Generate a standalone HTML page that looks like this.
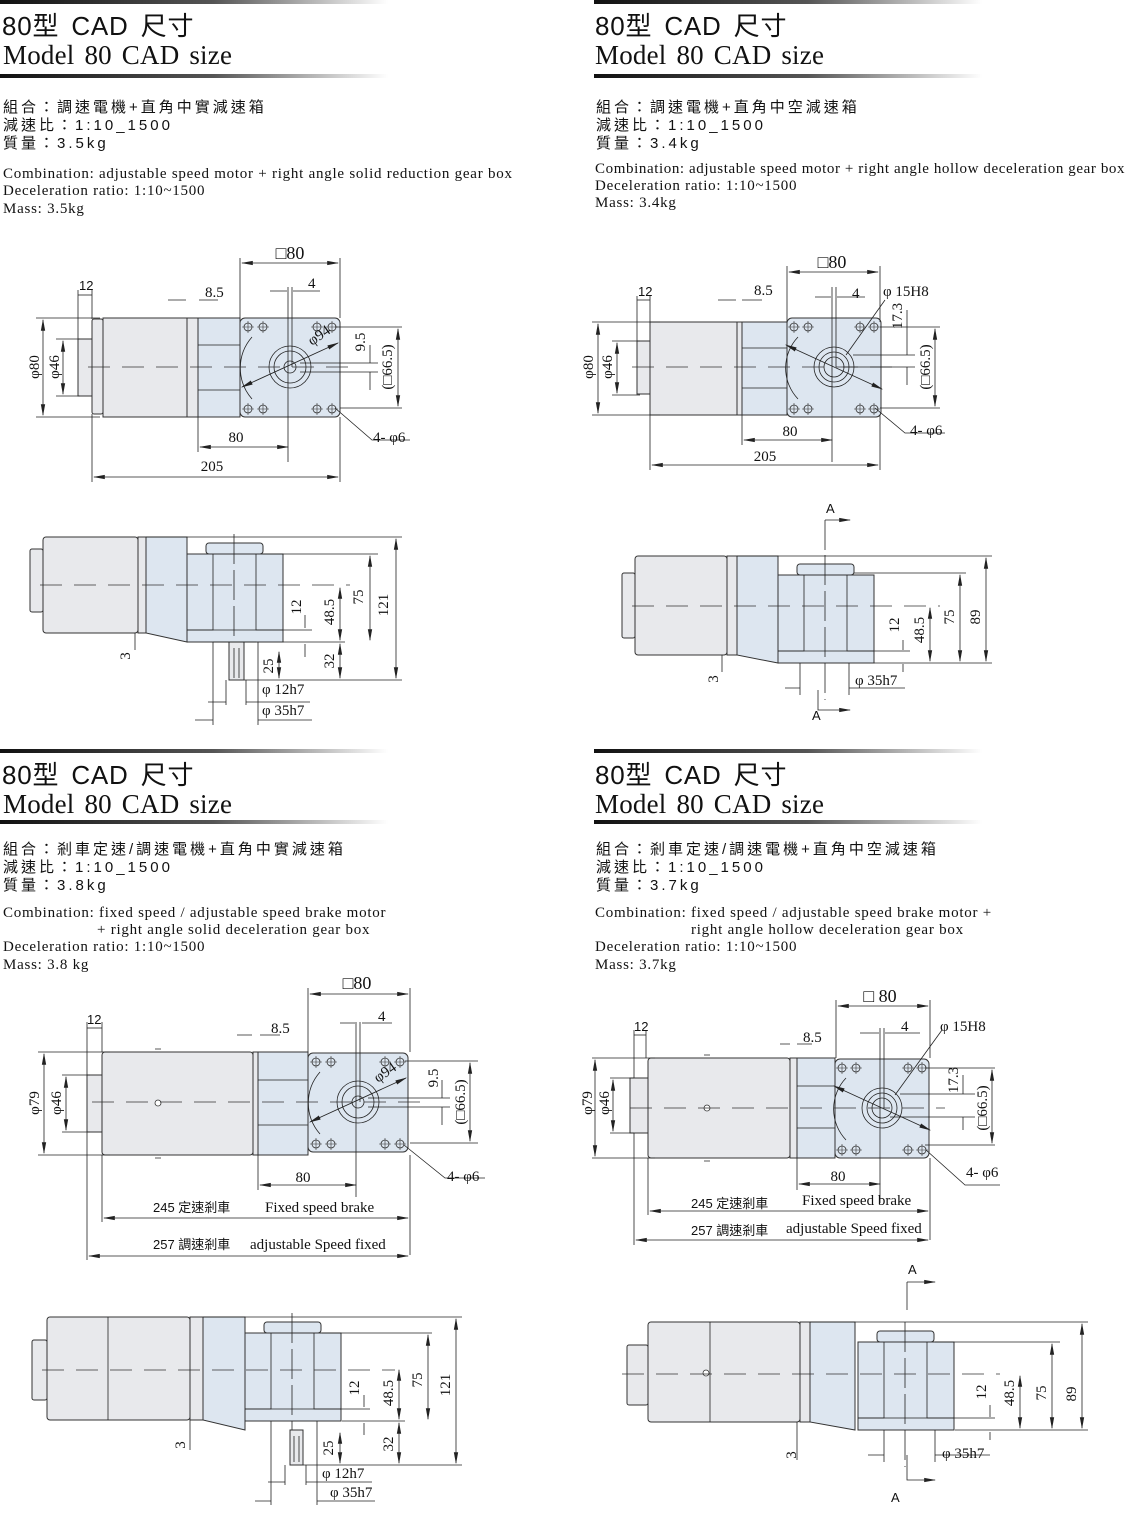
<!DOCTYPE html>
<html><head><meta charset="utf-8"><style>
html,body{margin:0;padding:0;background:#fff;}
svg{display:block}
.t1{font-family:"Liberation Sans","Noto Sans CJK TC",sans-serif;font-size:26px;letter-spacing:0.8px;word-spacing:4px;fill:#111}
.t2{font-family:"Liberation Serif",serif;font-size:27px;letter-spacing:0.2px;word-spacing:3px;fill:#111}
.cn{font-family:"Liberation Sans","Noto Sans CJK TC",sans-serif;font-size:15px;letter-spacing:3px;fill:#111}
.en{font-family:"Liberation Serif",serif;font-size:15px;letter-spacing:0.75px;fill:#111}
.dm{font-family:"Liberation Serif",serif;font-size:15px;fill:#111}
.dl{font-family:"Liberation Serif",serif;font-size:18px;fill:#111}
.cs{font-family:"Liberation Sans","Noto Sans CJK TC",sans-serif;font-size:13px;fill:#111}
.m{fill:#e8e9ec;stroke:#333;stroke-width:1}
.g{fill:#dde6f0;stroke:#333;stroke-width:1}
.l{stroke:#222;stroke-width:0.8;fill:none}
.c{stroke:#333;stroke-width:0.8;fill:none;stroke-dasharray:22 12}
.a{stroke:#222;stroke-width:0.8;fill:none;marker-start:url(#ar);marker-end:url(#ar)}
</style></head><body>
<svg width="1140" height="1513" viewBox="0 0 1140 1513" xmlns="http://www.w3.org/2000/svg">
<defs>
<linearGradient id="rg" x1="0" x2="1"><stop offset="0" stop-color="#111"/><stop offset="0.55" stop-color="#555"/><stop offset="1" stop-color="#fff"/></linearGradient>
<marker id="ar" viewBox="0 0 10 10" refX="9" refY="5" markerWidth="12" markerHeight="12" markerUnits="userSpaceOnUse" orient="auto-start-reverse"><path d="M0,3.2 L10,5 L0,6.8 z" fill="#222"/></marker>
<g id="bolt"><circle r="4" fill="none" stroke="#333" stroke-width="0.8"/><path d="M-6,0H6M0,-6V6" stroke="#333" stroke-width="0.6"/></g>
<g id="sqS">
<rect x="-50" y="-49" width="100" height="99" rx="5" class="g"/>
<path d="M-38,-30 A47,47 0 0 0 -38,32" class="l"/>
<circle r="21" class="l"/><circle r="16" class="l"/><circle r="6" class="l"/>
<use href="#bolt" x="-42" y="-40"/><use href="#bolt" x="-27" y="-40"/><use href="#bolt" x="27" y="-40"/><use href="#bolt" x="42" y="-40"/>
<use href="#bolt" x="-42" y="42"/><use href="#bolt" x="-27" y="42"/><use href="#bolt" x="27" y="42"/><use href="#bolt" x="42" y="42"/>
<path d="M-48,20 L48,-24" class="a"/>
<path d="M-2,-80 V95 M2,-80 V0" class="l"/>
</g>
<g id="sqH">
<rect x="-47" y="-49" width="94" height="99" rx="5" class="g"/>
<path d="M-36,-30 A45,45 0 0 0 -36,32" class="l"/>
<circle r="20" class="l"/><circle r="15" class="l"/><circle r="10" class="l"/>
<use href="#bolt" x="-40" y="-40"/><use href="#bolt" x="-26" y="-40"/><use href="#bolt" x="26" y="-40"/><use href="#bolt" x="40" y="-40"/>
<use href="#bolt" x="-40" y="42"/><use href="#bolt" x="-26" y="42"/><use href="#bolt" x="26" y="42"/><use href="#bolt" x="40" y="42"/>
<path d="M-48,-22 L48,22" class="a"/>
<path d="M-2,-80 V95 M2,-80 V0" class="l"/>
</g>
<g id="gb">
<rect x="19" y="-11" width="57" height="11" rx="3" class="g"/>
<rect x="0" y="0" width="96" height="88" class="g"/>
<path d="M26,0 V76 H0 M69,0 V76 H96" class="l"/>
<path d="M47,-20 V125" class="l" stroke-dasharray="30 6"/>
</g>
</defs>

<rect x="0" y="0" width="388" height="4" fill="url(#rg)"/>
<rect x="0" y="74" width="388" height="4" fill="url(#rg)"/>
<text x="2" y="35" class="t1">80型 CAD 尺寸</text>
<text x="3" y="64" class="t2">Model 80 CAD size</text>
<text x="3" y="112" class="cn">組合：調速電機+直角中實減速箱</text>
<text x="3" y="130" class="cn">減速比：1:10_1500</text>
<text x="3" y="148" class="cn">質量：3.5kg</text>
<text x="3" y="178" class="en">Combination: adjustable speed motor + right angle solid reduction gear box</text>
<text x="3" y="195" class="en">Deceleration ratio: 1:10~1500</text>
<text x="3" y="213" class="en">Mass: 3.5kg</text>

<rect x="594" y="0" width="388" height="4" fill="url(#rg)"/>
<rect x="594" y="74" width="388" height="4" fill="url(#rg)"/>
<text x="595" y="35" class="t1">80型 CAD 尺寸</text>
<text x="595" y="64" class="t2">Model 80 CAD size</text>
<text x="596" y="112" class="cn">組合：調速電機+直角中空減速箱</text>
<text x="596" y="130" class="cn">減速比：1:10_1500</text>
<text x="596" y="148" class="cn">質量：3.4kg</text>
<text x="595" y="173" class="en" style="letter-spacing:0.6px">Combination: adjustable speed motor + right angle hollow deceleration gear box</text>
<text x="595" y="190" class="en">Deceleration ratio: 1:10~1500</text>
<text x="595" y="207" class="en">Mass: 3.4kg</text>

<rect x="0" y="749" width="388" height="4" fill="url(#rg)"/>
<rect x="0" y="820" width="388" height="4" fill="url(#rg)"/>
<text x="2" y="784" class="t1">80型 CAD 尺寸</text>
<text x="3" y="813" class="t2">Model 80 CAD size</text>
<text x="3" y="854" class="cn">組合：剎車定速/調速電機+直角中實減速箱</text>
<text x="3" y="872" class="cn">減速比：1:10_1500</text>
<text x="3" y="890" class="cn">質量：3.8kg</text>
<text x="3" y="917" class="en">Combination: fixed speed / adjustable speed brake motor</text>
<text x="97" y="934" class="en">+ right angle solid deceleration gear box</text>
<text x="3" y="951" class="en">Deceleration ratio: 1:10~1500</text>
<text x="3" y="969" class="en">Mass: 3.8 kg</text>

<rect x="594" y="749" width="388" height="4" fill="url(#rg)"/>
<rect x="594" y="820" width="388" height="4" fill="url(#rg)"/>
<text x="595" y="784" class="t1">80型 CAD 尺寸</text>
<text x="595" y="813" class="t2">Model 80 CAD size</text>
<text x="596" y="854" class="cn">組合：剎車定速/調速電機+直角中空減速箱</text>
<text x="596" y="872" class="cn">減速比：1:10_1500</text>
<text x="596" y="890" class="cn">質量：3.7kg</text>
<text x="595" y="917" class="en">Combination: fixed speed / adjustable speed brake motor +</text>
<text x="691" y="934" class="en">right angle hollow deceleration gear box</text>
<text x="595" y="951" class="en">Deceleration ratio: 1:10~1500</text>
<text x="595" y="969" class="en">Mass: 3.7kg</text>

<!-- Q1 TOP -->
<rect x="78" y="339" width="14" height="57" class="m"/>
<rect x="92" y="319" width="11" height="95" rx="2" class="m"/>
<rect x="103" y="318" width="84" height="99" class="m"/>
<rect x="187" y="318" width="11" height="99" class="m"/>
<rect x="198" y="318" width="42" height="99" class="g"/>
<path d="M198,345 H240 M198,390 H240" class="l"/>
<use href="#sqS" x="290" y="367"/>
<path d="M88,367 H350" class="c"/>
<text x="290" y="259" class="dl" text-anchor="middle">□80</text>
<path d="M240,258 V318 M340,258 V318" class="l"/><path d="M242,263 H338" class="a"/>
<path d="M270,291 H287 M293,291 H320" class="l"/><text x="308" y="288" class="dm">4</text>
<path d="M78,290 V339 M92,290 V319" class="l"/><path d="M78,295 H92" class="l"/><text x="79" y="290" class="cs">12</text>
<path d="M168,300 H186 M199,300 H218" class="l"/><text x="205" y="297" class="dm">8.5</text>
<path d="M36,318 H100 M56,339 H80 M56,396 H80" class="l"/><path d="M36,417 H100" class="l"/>
<path d="M43,320 V415" class="a"/><path d="M63,341 V394" class="a"/>
<text transform="translate(39,367) rotate(-90)" class="dm" text-anchor="middle">φ80</text>
<text transform="translate(59,367) rotate(-90)" class="dm" text-anchor="middle">φ46</text>
<path d="M300,363 H378 M300,372 H378 M335,327 H402 M340,408 H402" class="l"/>
<path d="M370,345 V363 M370,372 V390" class="l"/>
<text transform="translate(365,342) rotate(-90)" class="dm" text-anchor="middle">9.5</text>
<path d="M398,329 V406" class="a"/>
<text transform="translate(392,367) rotate(-90)" class="dm" text-anchor="middle">(□66.5)</text>
<path d="M198,417 V452 M340,417 V482 M92,414 V482" class="l"/>
<path d="M200,447 H288" class="a"/><text x="236" y="442" class="dm" text-anchor="middle">80</text>
<path d="M94,477 H338" class="a"/><text x="212" y="471" class="dm" text-anchor="middle">205</text>
<path d="M335,408 L372,440 H410" class="l"/><text x="373" y="442" class="dm">4- φ6</text>
<text transform="translate(312,346) rotate(-35)" class="dm">φ94</text>

<!-- Q1 SIDE -->
<rect x="30" y="549" width="13" height="63" rx="2" class="m"/>
<rect x="43" y="537" width="95" height="96" rx="3" class="m"/>
<rect x="138" y="537" width="8" height="96" class="m"/>
<path d="M146,537 H187 V642 L146,633 Z" class="g"/>
<use href="#gb" x="187" y="554"/>
<rect x="229" y="642" width="15" height="38" class="m"/><path d="M234,648 V678 M239,648 V678" class="l"/>
<path d="M213,642 H256" class="l"/>
<path d="M40,585 H350" class="c"/>
<path d="M146,537 H402 M263,554 H378 M283,642 H345 M244,680 H402 M187,630 H312" class="l"/>
<path d="M396,539 V678" class="a"/><text transform="translate(388,605) rotate(-90)" class="dm" text-anchor="middle">121</text>
<path d="M370,556 V640" class="a"/><text transform="translate(363,597) rotate(-90)" class="dm" text-anchor="middle">75</text>
<path d="M340,588 V640" class="a"/><text transform="translate(334,612) rotate(-90)" class="dm" text-anchor="middle">48.5</text>
<path d="M340,644 V678" class="a"/><text transform="translate(334,661) rotate(-90)" class="dm" text-anchor="middle">32</text>
<path d="M305,615 V628 M305,644 V657" class="l"/><text transform="translate(301,607) rotate(-90)" class="dm" text-anchor="middle">12</text>
<path d="M279,652 V678" class="a"/><text transform="translate(273,666) rotate(-90)" class="dm" text-anchor="middle">25</text>
<path d="M135,633 V650" class="l"/><text transform="translate(130,656) rotate(-90)" class="dm" text-anchor="middle">3</text>
<path d="M213,642 V725 M258,642 V725 M226,680 V705 M246,680 V705" class="l"/>
<path d="M208,702 H226 M246,702 H310" class="l"/><text x="262" y="694" class="dm">φ 12h7</text>
<path d="M195,720 H213 M258,720 H312" class="l"/><text x="262" y="715" class="dm">φ 35h7</text>

<!-- Q2 TOP -->
<rect x="637" y="341" width="13" height="53" class="m"/>
<rect x="650" y="322" width="87" height="93" class="m"/>
<rect x="737" y="322" width="5" height="93" class="m"/>
<rect x="742" y="322" width="45" height="93" class="g"/>
<path d="M742,348 H787 M742,388 H787" class="l"/>
<use href="#sqH" x="834" y="367"/>
<path d="M632,367 H892" class="c"/>
<text x="832" y="268" class="dl" text-anchor="middle">□80</text>
<path d="M787,266 V322 M880,266 V322" class="l"/><path d="M789,272 H878" class="a"/>
<path d="M815,297 H831 M837,297 H865" class="l"/><text x="852" y="298" class="dm">4</text>
<path d="M637,296 V341 M650,296 V322" class="l"/><path d="M637,300 H650" class="l"/><text x="638" y="296" class="cs">12</text>
<path d="M718,300 H736 M742,300 H762" class="l"/><text x="754" y="295" class="dm">8.5</text>
<path d="M592,322 H660 M612,341 H640 M612,395 H640 M592,415 H660" class="l"/>
<path d="M598,324 V413" class="a"/><path d="M617,343 V393" class="a"/>
<text transform="translate(593,367) rotate(-90)" class="dm" text-anchor="middle">φ80</text>
<text transform="translate(612,367) rotate(-90)" class="dm" text-anchor="middle">φ46</text>
<path d="M853,355 H915 M843,367 H915 M880,327 H940 M880,408 H940" class="l"/>
<path d="M907,310 V355 M907,367 V385" class="l"/>
<text transform="translate(902,316) rotate(-90)" class="dm" text-anchor="middle">17.3</text>
<path d="M935,329 V406" class="a"/>
<text transform="translate(930,367) rotate(-90)" class="dm" text-anchor="middle">(□66.5)</text>
<path d="M846,355 L885,300" class="l"/><text x="883" y="296" class="dm">φ 15H8</text>
<path d="M742,415 V445 M880,415 V470 M650,415 V470" class="l"/>
<path d="M744,440 H832" class="a"/><text x="790" y="436" class="dm" text-anchor="middle">80</text>
<path d="M652,465 H878" class="a"/><text x="765" y="461" class="dm" text-anchor="middle">205</text>
<path d="M875,408 L905,433 H945" class="l"/><text x="910" y="435" class="dm">4- φ6</text>

<!-- Q2 SIDE -->
<rect x="622" y="573" width="13" height="65" rx="2" class="m"/>
<rect x="635" y="556" width="92" height="99" rx="3" class="m"/>
<rect x="727" y="556" width="10" height="99" class="m"/>
<path d="M737,556 H778 V663 L737,655 Z" class="g"/>
<use href="#gb" x="778" y="575"/>
<path d="M632,606 H940" class="c"/>
<path d="M825,520 V550" class="l"/><path d="M825,520 H850" class="l" marker-end="url(#ar)"/><text x="826" y="513" class="cs">A</text>
<path d="M818,690 V710 H850" class="l" marker-end="url(#ar)"/><text x="812" y="720" class="cs">A</text>
<path d="M737,556 H992 M854,573 H966 M874,663 H992 M778,651 H910" class="l"/>
<path d="M986,558 V661" class="a"/><text transform="translate(980,617) rotate(-90)" class="dm" text-anchor="middle">89</text>
<path d="M960,575 V661" class="a"/><text transform="translate(954,617) rotate(-90)" class="dm" text-anchor="middle">75</text>
<path d="M930,608 V661" class="a"/><text transform="translate(924,630) rotate(-90)" class="dm" text-anchor="middle">48.5</text>
<path d="M903,640 V650 M903,664 V672" class="l"/><text transform="translate(899,625) rotate(-90)" class="dm" text-anchor="middle">12</text>
<path d="M722,655 V672" class="l"/><text transform="translate(718,679) rotate(-90)" class="dm" text-anchor="middle">3</text>
<path d="M800,663 V695 M849,663 V695" class="l"/>
<path d="M785,688 H800 M849,688 H905" class="l"/><text x="855" y="685" class="dm">φ 35h7</text>

<!-- Q3 TOP -->
<rect x="87" y="1075" width="15" height="57" class="m"/>
<rect x="102" y="1052" width="151" height="103" rx="3" class="m"/>
<circle cx="158" cy="1103" r="3" fill="#fff" stroke="#333" stroke-width="0.8"/>
<path d="M155,1049 h6 M155,1158 h6" class="l"/>
<rect x="253" y="1052" width="5" height="103" class="m"/>
<rect x="258" y="1052" width="50" height="103" class="g"/>
<path d="M258,1080 H308 M258,1125 H308" class="l"/>
<use href="#sqS" x="358" y="1102"/>
<path d="M92,1102 H420" class="c"/>
<text x="357" y="989" class="dl" text-anchor="middle">□80</text>
<path d="M308,988 V1052 M410,988 V1052" class="l"/><path d="M310,994 H408" class="a"/>
<path d="M340,1023 H355 M362,1023 H392" class="l"/><text x="378" y="1021" class="dm">4</text>
<path d="M87,1022 V1075 M102,1022 V1052" class="l"/><path d="M87,1028 H102" class="l"/><text x="87" y="1024" class="cs">12</text>
<path d="M237,1035 H252 M260,1035 H280" class="l"/><text x="271" y="1033" class="dm">8.5</text>
<path d="M38,1052 H110 M62,1075 H90 M62,1132 H90 M38,1155 H110" class="l"/>
<path d="M44,1054 V1153" class="a"/><path d="M66,1077 V1130" class="a"/>
<text transform="translate(39,1103) rotate(-90)" class="dm" text-anchor="middle">φ79</text>
<text transform="translate(61,1103) rotate(-90)" class="dm" text-anchor="middle">φ46</text>
<path d="M368,1098 H450 M368,1107 H450 M405,1061 H478 M410,1143 H478" class="l"/>
<path d="M442,1080 V1098 M442,1107 V1125" class="l"/>
<text transform="translate(438,1078) rotate(-90)" class="dm" text-anchor="middle">9.5</text>
<path d="M470,1063 V1141" class="a"/>
<text transform="translate(465,1102) rotate(-90)" class="dm" text-anchor="middle">(□66.5)</text>
<path d="M258,1155 V1190 M410,1155 V1255 M102,1155 V1222 M87,1132 V1260" class="l"/>
<path d="M260,1185 H356" class="a"/><text x="303" y="1182" class="dm" text-anchor="middle">80</text>
<text x="153" y="1212" class="cs">245 定速剎車</text><text x="265" y="1212" class="dm">Fixed speed brake</text>
<path d="M104,1218 H408" class="a"/>
<text x="153" y="1249" class="cs">257 調速剎車</text><text x="250" y="1249" class="dm">adjustable Speed fixed</text>
<path d="M89,1256 H408" class="a"/>
<path d="M404,1145 L445,1178 H485" class="l"/><text x="447" y="1181" class="dm">4- φ6</text>
<text transform="translate(378,1083) rotate(-35)" class="dm">φ94</text>

<!-- Q3 SIDE -->
<rect x="32" y="1340" width="15" height="60" rx="2" class="m"/>
<rect x="47" y="1317" width="143" height="103" rx="3" class="m"/>
<path d="M108,1317 V1420" class="l"/>
<rect x="190" y="1317" width="13" height="103" class="m"/>
<path d="M203,1317 H245 V1430 L203,1420 Z" class="g"/>
<use href="#gb" x="245" y="1333"/>
<rect x="290" y="1430" width="13" height="35" class="m"/><path d="M294,1436 V1462 M299,1436 V1462" class="l"/>
<path d="M42,1370 H395" class="c"/>
<path d="M203,1317 H462 M322,1333 H432 M342,1421 H405 M303,1465 H462 M245,1409 H370" class="l"/>
<path d="M456,1319 V1463" class="a"/><text transform="translate(450,1385) rotate(-90)" class="dm" text-anchor="middle">121</text>
<path d="M428,1335 V1419" class="a"/><text transform="translate(422,1380) rotate(-90)" class="dm" text-anchor="middle">75</text>
<path d="M399,1370 V1419" class="a"/><text transform="translate(393,1393) rotate(-90)" class="dm" text-anchor="middle">48.5</text>
<path d="M399,1423 V1463" class="a"/><text transform="translate(393,1444) rotate(-90)" class="dm" text-anchor="middle">32</text>
<path d="M364,1395 V1407 M364,1423 V1435" class="l"/><text transform="translate(359,1388) rotate(-90)" class="dm" text-anchor="middle">12</text>
<path d="M340,1433 V1463" class="a"/><text transform="translate(333,1448) rotate(-90)" class="dm" text-anchor="middle">25</text>
<path d="M190,1420 V1450" class="l"/><text transform="translate(185,1445) rotate(-90)" class="dm" text-anchor="middle">3</text>
<path d="M271,1421 V1505 M317,1421 V1505 M285,1465 V1485 M306,1465 V1485" class="l"/>
<path d="M268,1482 H285 M306,1482 H372" class="l"/><text x="322" y="1478" class="dm">φ 12h7</text>
<path d="M255,1501 H271 M317,1501 H375" class="l"/><text x="330" y="1497" class="dm">φ 35h7</text>

<!-- Q4 TOP -->
<rect x="630" y="1078" width="18" height="55" class="m"/>
<rect x="648" y="1058" width="142" height="100" rx="3" class="m"/>
<circle cx="707" cy="1108" r="3" fill="#fff" stroke="#333" stroke-width="0.8"/>
<path d="M704,1055 h6 M704,1161 h6" class="l"/>
<rect x="790" y="1058" width="7" height="100" class="m"/>
<rect x="797" y="1058" width="38" height="100" class="g"/>
<path d="M797,1086 H835 M797,1128 H835" class="l"/>
<use href="#sqH" x="882" y="1108"/>
<path d="M630,1108 H945" class="c"/>
<text x="880" y="1002" class="dl" text-anchor="middle">□ 80</text>
<path d="M836,1000 V1058 M930,1000 V1058" class="l"/><path d="M838,1006 H928" class="a"/>
<path d="M860,1033 H879 M885,1033 H920" class="l"/><text x="901" y="1031" class="dm">4</text>
<path d="M634,1030 V1078 M646,1030 V1058" class="l"/><path d="M634,1035 H646" class="l"/><text x="634" y="1031" class="cs">12</text>
<path d="M780,1044 H790 M797,1044 H812" class="l"/><text x="803" y="1042" class="dm">8.5</text>
<path d="M592,1058 H655 M610,1078 H634 M610,1133 H634 M592,1158 H655" class="l"/>
<path d="M595,1060 V1156" class="a"/><path d="M613,1080 V1131" class="a"/>
<text transform="translate(592,1103) rotate(-90)" class="dm" text-anchor="middle">φ79</text>
<text transform="translate(609,1103) rotate(-90)" class="dm" text-anchor="middle">φ46</text>
<path d="M900,1094 H975 M890,1117 H975 M925,1068 H995 M925,1145 H995" class="l"/>
<path d="M963,1075 V1094 M963,1117 V1130" class="l"/>
<text transform="translate(958,1080) rotate(-90)" class="dm" text-anchor="middle">17.3</text>
<path d="M992,1070 V1143" class="a"/>
<text transform="translate(987,1108) rotate(-90)" class="dm" text-anchor="middle">(□66.5)</text>
<path d="M895,1095 L942,1030" class="l"/><text x="940" y="1031" class="dm">φ 15H8</text>
<path d="M797,1158 V1190 M930,1158 V1240 M648,1158 V1215 M634,1133 V1245" class="l"/>
<path d="M799,1184 H880" class="a"/><text x="838" y="1181" class="dm" text-anchor="middle">80</text>
<text x="691" y="1208" class="cs">245 定速剎車</text><text x="802" y="1205" class="dm">Fixed speed brake</text>
<path d="M650,1211 H928" class="a"/>
<text x="691" y="1235" class="cs">257 調速剎車</text><text x="786" y="1233" class="dm">adjustable Speed fixed</text>
<path d="M636,1240 H928" class="a"/>
<path d="M926,1150 L965,1185 H1000" class="l"/><text x="966" y="1177" class="dm">4- φ6</text>

<!-- Q4 SIDE -->
<rect x="627" y="1345" width="21" height="60" rx="2" class="m"/>
<rect x="648" y="1322" width="152" height="100" rx="3" class="m"/>
<path d="M710,1322 V1422" class="l"/>
<circle cx="706" cy="1373" r="3" fill="#fff" stroke="#333" stroke-width="0.8"/>
<rect x="800" y="1322" width="10" height="100" class="m"/>
<path d="M810,1322 H855 V1430 L810,1422 Z" class="g"/>
<use href="#gb" x="858" y="1342"/>
<path d="M622,1374 H1000" class="c"/>
<path d="M907,1282 V1310" class="l"/><path d="M907,1282 H935" class="l" marker-end="url(#ar)"/><text x="908" y="1274" class="cs">A</text>
<path d="M907,1455 V1480 H935" class="l" marker-end="url(#ar)"/><text x="891" y="1502" class="cs">A</text>
<path d="M810,1322 H1088 M935,1342 H1060 M955,1430 H1088 M858,1418 H995" class="l"/>
<path d="M1082,1324 V1428" class="a"/><text transform="translate(1076,1394) rotate(-90)" class="dm" text-anchor="middle">89</text>
<path d="M1052,1344 V1428" class="a"/><text transform="translate(1046,1393) rotate(-90)" class="dm" text-anchor="middle">75</text>
<path d="M1020,1376 V1428" class="a"/><text transform="translate(1014,1393) rotate(-90)" class="dm" text-anchor="middle">48.5</text>
<path d="M990,1405 V1417 M990,1432 V1440" class="l"/><text transform="translate(986,1392) rotate(-90)" class="dm" text-anchor="middle">12</text>
<path d="M797,1422 V1460" class="l"/><text transform="translate(796,1455) rotate(-90)" class="dm" text-anchor="middle">3</text>
<path d="M884,1430 V1462 M935,1430 V1462" class="l"/>
<path d="M868,1455 H884 M935,1455 H990" class="l"/><text x="942" y="1458" class="dm">φ 35h7</text>
</svg>
</body></html>
